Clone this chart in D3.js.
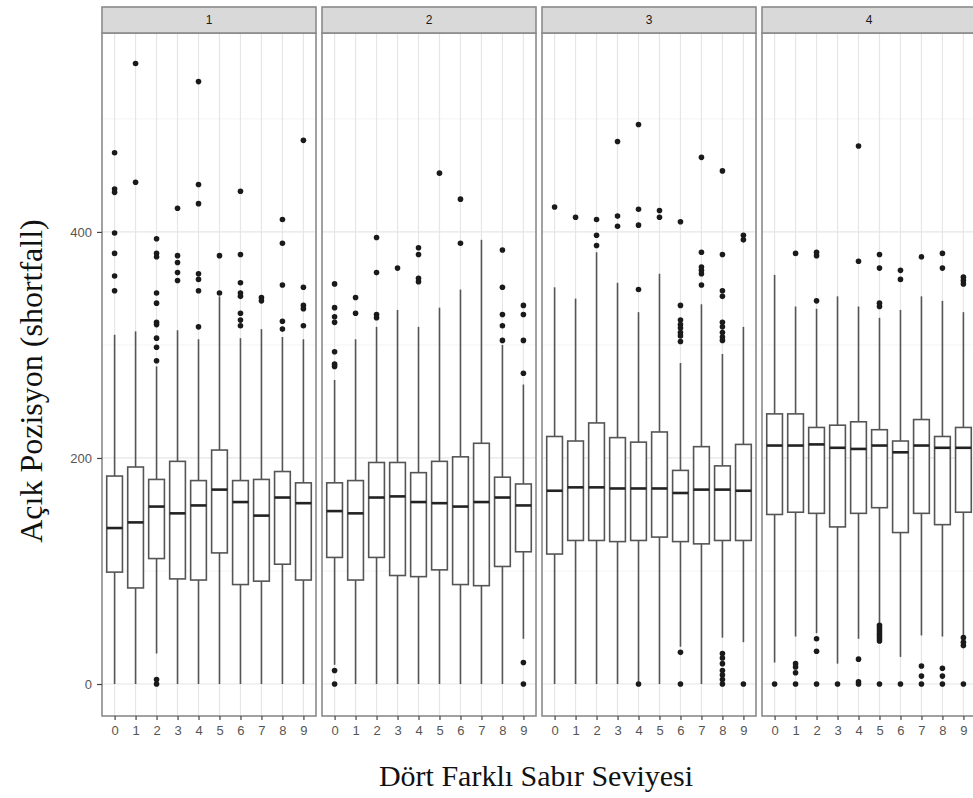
<!DOCTYPE html>
<html><head><meta charset="utf-8">
<script src="https://cdn.jsdelivr.net/npm/d3@7"></script>
<style>body{margin:0;background:#fff;overflow:hidden}</style>
</head><body><svg id="c" width="973" height="798"></svg>
<script>
const panels = ["1", "2", "3", "4"];
const categories = ["0", "1", "2", "3", "4", "5", "6", "7", "8", "9"];
const yTicks = [0, 200, 400];
const yMinorTicks = [100, 300, 500];
const xTitle = "Dört Farklı Sabır Seviyesi";
const yTitle = "Açık Pozisyon (shortfall)";

// per panel, per category
const q3 = [
  [184, 192, 181, 197, 180, 207, 180, 181, 188, 178],
  [178, 180, 196, 196, 187, 197, 201, 213, 183, 177],
  [219, 215, 231, 218, 214, 223, 189, 210, 193, 212],
  [239, 239, 227, 229, 232, 225, 215, 234, 219, 227]
];
const medians = [
  [138, 143, 157, 151, 158, 172, 161, 149, 165, 160],
  [153, 151, 165, 166, 161, 160, 157, 161, 165, 158],
  [171, 174, 174, 173, 173, 173, 169, 172, 172, 171],
  [211, 211, 212, 209, 208, 211, 205, 211, 209, 209]
];
const q1 = [
  [99, 85, 111, 93, 92, 116, 88, 91, 106, 92],
  [112, 92, 112, 96, 95, 101, 88, 87, 104, 117],
  [115, 127, 127, 126, 127, 130, 126, 124, 127, 127],
  [150, 152, 151, 139, 151, 156, 134, 151, 141, 152]
];
const whiskerHigh = [
  [309, 312, 281, 313, 305, 343, 306, 314, 307, 305],
  [269, 305, 316, 331, 316, 333, 349, 393, 300, 265],
  [351, 341, 382, 355, 329, 363, 284, 336, 292, 316],
  [362, 334, 332, 343, 334, 324, 331, 343, 339, 329]
];
const whiskerLow = [
  [0, 0, 27, 0, 0, 0, 0, 0, 0, 0],
  [17, 0, 0, 0, 0, 0, 0, 0, 0, 40],
  [0, 0, 0, 0, 2, 0, 33, 0, 41, 37],
  [19, 42, 45, 18, 40, 54, 24, 43, 42, 42]
];
const outliers = [
  [
    [470, 438, 435, 399, 381, 361, 348],
    [549, 444],
    [394, 381, 378, 346, 337, 320, 318, 306, 298, 286, 4, 0],
    [421, 379, 373, 364, 357],
    [533, 442, 425, 363, 358, 348, 316],
    [379, 346],
    [436, 380, 355, 346, 343, 328, 322, 317],
    [342, 339],
    [411, 390, 353, 321, 314],
    [481, 351, 335, 332, 317]
  ],
  [
    [354, 333, 325, 320, 294, 283, 281, 12, 0],
    [342, 328],
    [395, 364, 327, 324],
    [368],
    [386, 380, 359, 356],
    [452],
    [429, 390],
    [],
    [384, 351, 327, 317, 304],
    [335, 327, 304, 275, 19, 0]
  ],
  [
    [422],
    [413],
    [411, 397, 388],
    [480, 414, 405],
    [495, 420, 406, 349, 0],
    [419, 413],
    [409, 335, 322, 318, 315, 311, 308, 303, 28, 0],
    [466, 382, 369, 366, 363, 353],
    [454, 380, 348, 343, 320, 316, 311, 307, 304, 27, 23, 18, 12, 8, 4, 0],
    [397, 393, 0]
  ],
  [
    [0],
    [381, 18, 15, 10, 0],
    [382, 379, 339, 40, 29, 0],
    [0],
    [476, 374, 22, 2, 0],
    [380, 368, 337, 334, 52, 50, 48, 46, 44, 42, 40, 38, 0],
    [366, 358, 0],
    [378, 16, 7, 0],
    [381, 368, 14, 7, 0],
    [360, 357, 354, 41, 37, 34, 0]
  ]
];

const svg = d3.select("#c");
const panelTop = 33, panelBottom = 716, stripTop = 7;
const panelW = 214, panelGap = 6, firstLeft = 102;
const y = d3.scaleLinear().domain([-28.3, 576]).range([panelBottom, panelTop]);
const borderCol = "#8a8a8a";

panels.forEach((p, pi) => {
  const left = firstLeft + pi * (panelW + panelGap);
  const x = d3.scalePoint().domain(categories).range([left, left + panelW]).padding(0.6);
  const bw = x.step() * 0.75;
  const g = svg.append("g");

  g.append("rect").attr("x", left).attr("y", panelTop).attr("width", panelW)
    .attr("height", panelBottom - panelTop).attr("fill", "#fff");
  g.selectAll(".ymin").data(yMinorTicks).join("line")
    .attr("x1", left).attr("x2", left + panelW)
    .attr("y1", d => y(d)).attr("y2", d => y(d))
    .attr("stroke", "#f4f4f4").attr("stroke-width", 1);
  g.selectAll(".ymaj").data(yTicks).join("line")
    .attr("x1", left).attr("x2", left + panelW)
    .attr("y1", d => y(d)).attr("y2", d => y(d))
    .attr("stroke", "#e6e6e6").attr("stroke-width", 1.2);
  g.selectAll(".xmaj").data(categories).join("line")
    .attr("x1", d => x(d)).attr("x2", d => x(d))
    .attr("y1", panelTop).attr("y2", panelBottom)
    .attr("stroke", "#e6e6e6").attr("stroke-width", 1.2);

  categories.forEach((c, ci) => {
    const cx = x(c);
    g.append("line").attr("x1", cx).attr("x2", cx)
      .attr("y1", y(whiskerHigh[pi][ci])).attr("y2", y(q3[pi][ci]))
      .attr("stroke", "#555").attr("stroke-width", 1.6);
    g.append("line").attr("x1", cx).attr("x2", cx)
      .attr("y1", y(q1[pi][ci])).attr("y2", y(whiskerLow[pi][ci]))
      .attr("stroke", "#555").attr("stroke-width", 1.6);
    g.append("rect").attr("x", cx - bw / 2).attr("width", bw)
      .attr("y", y(q3[pi][ci])).attr("height", y(q1[pi][ci]) - y(q3[pi][ci]))
      .attr("fill", "#fff").attr("stroke", "#555").attr("stroke-width", 1.6);
    g.append("line").attr("x1", cx - bw / 2).attr("x2", cx + bw / 2)
      .attr("y1", y(medians[pi][ci])).attr("y2", y(medians[pi][ci]))
      .attr("stroke", "#222").attr("stroke-width", 2.6);
    g.selectAll(null).data(outliers[pi][ci]).join("circle")
      .attr("cx", cx).attr("cy", d => y(d)).attr("r", 2.8)
      .attr("fill", "#1a1a1a");
  });

  g.append("rect").attr("x", left).attr("y", panelTop).attr("width", panelW)
    .attr("height", panelBottom - panelTop).attr("fill", "none")
    .attr("stroke", borderCol).attr("stroke-width", 1.6);
  g.append("rect").attr("x", left).attr("y", stripTop).attr("width", panelW)
    .attr("height", panelTop - stripTop).attr("fill", "#d9d9d9")
    .attr("stroke", borderCol).attr("stroke-width", 1.6);
  g.append("text").attr("x", left + panelW / 2).attr("y", (stripTop + panelTop) / 2 + 4)
    .attr("text-anchor", "middle").attr("font-family", "Liberation Sans, Arial, sans-serif")
    .attr("font-size", 12).attr("fill", "#1a1a1a").text(p);

  const xa = d3.axisBottom(x).tickSize(4).tickPadding(6);
  const ax = svg.append("g").attr("transform", `translate(0,${panelBottom})`).call(xa);
  ax.select(".domain").remove();
  ax.selectAll("line").attr("stroke", "#444").attr("stroke-width", 1.2);
  ax.selectAll("text").attr("font-family", "Liberation Sans, Arial, sans-serif")
    .attr("font-size", 13).attr("fill", "#555");
});

const ya = d3.axisLeft(y).tickValues(yTicks).tickSize(5).tickPadding(5);
const ay = svg.append("g").attr("transform", `translate(${firstLeft},0)`).call(ya);
ay.select(".domain").remove();
ay.selectAll("line").attr("stroke", "#444").attr("stroke-width", 1.2);
ay.selectAll("text").attr("font-family", "Liberation Sans, Arial, sans-serif")
  .attr("font-size", 13).attr("fill", "#555");

svg.append("text").attr("x", 536).attr("y", 786).attr("text-anchor", "middle")
  .attr("font-family", "Liberation Serif, Times New Roman, serif")
  .attr("font-size", 30).attr("fill", "#111").text(xTitle);
svg.append("text").attr("transform", "translate(42,381) rotate(-90)")
  .attr("text-anchor", "middle")
  .attr("font-family", "Liberation Serif, Times New Roman, serif")
  .attr("font-size", 32).attr("fill", "#111").text(yTitle);
</script>
</body></html>
